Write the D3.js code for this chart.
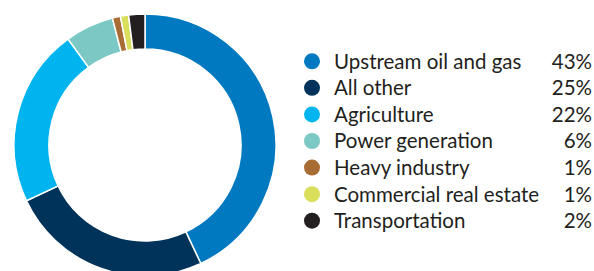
<!DOCTYPE html>
<html>
<head>
<meta charset="utf-8">
<script src="https://cdn.jsdelivr.net/npm/d3@7"></script>
<style>
  body { margin: 0; background: #fff; }
  text { font-family: Lato, "Liberation Sans", sans-serif; fill: #231f20; }
</style>
</head>
<body>
<script>
// sectors, in drawing order (clockwise from 12 o'clock)
var sectors = ["Upstream oil and gas", "All other", "Agriculture", "Power generation",
               "Heavy industry", "Commercial real estate", "Transportation"];
var shares = [43, 25, 22, 6, 1, 1, 2];
var colours = ["#0079c1", "#003359", "#00b5ef", "#7cc8c4", "#a86c34", "#d9de5b", "#231f20"];

var width = 594, height = 271;

var svg = d3.select("body").append("svg")
    .attr("width", width)
    .attr("height", height);

var data = sectors.map(function(s, i) {
    return {name: s, value: shares[i], colour: colours[i]};
});

//----- donut -----//
var pie = d3.pie()
    .sort(null)
    .value(function(d) { return d.value; });

var arc = d3.arc()
    .innerRadius(96)
    .outerRadius(131);

var donut = svg.append("g")
    .attr("transform", "translate(145,145)");

donut.selectAll("path")
    .data(pie(data))
    .enter().append("path")
    .attr("d", arc)
    .style("fill", function(d) { return d.data.colour; })
    .style("stroke", "#fff")
    .style("stroke-width", 1.5);

//----- legend -----//
var row = d3.scaleBand()
    .domain(sectors)
    .range([48, 234]);

var legend = svg.selectAll(".legend")
    .data(data)
    .enter().append("g")
    .attr("class", "legend")
    .attr("transform", function(d) { return "translate(0," + (row(d.name) + row.bandwidth() / 2) + ")"; });

legend.append("circle")
    .attr("cx", 312)
    .attr("cy", 0)
    .attr("r", 8)
    .style("fill", function(d) { return d.colour; });

legend.append("text")
    .attr("x", 334)
    .attr("dy", "0.36em")
    .style("font-size", "20.5px")
    .text(function(d) { return d.name; });

legend.append("text")
    .attr("x", 592)
    .attr("dy", "0.36em")
    .attr("text-anchor", "end")
    .style("font-size", "20.5px")
    .text(function(d) { return d.value + "%"; });
</script>
</body>
</html>
